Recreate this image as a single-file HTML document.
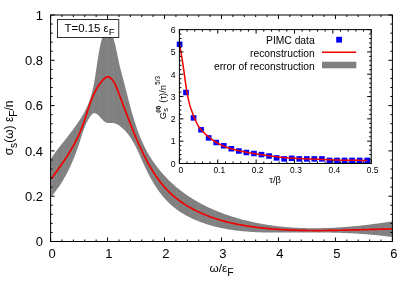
<!DOCTYPE html><html><head><meta charset="utf-8"><style>html,body{margin:0;padding:0;background:#fff}svg text{font-family:"Liberation Sans",sans-serif}body{width:415px;height:291px;overflow:hidden}</style></head><body><svg width="415" height="291" viewBox="0 0 415 291" style="display:block;will-change:transform;opacity:0.999">
<rect width="415" height="291" fill="#fff"/>
<g font-family="Liberation Sans, sans-serif" fill="#000">
<clipPath id="bc"><path d="M51.02,158.54 L51.62,157.65 L52.23,156.76 L52.86,155.87 L53.48,154.99 L54.12,154.10 L54.76,153.22 L55.41,152.34 L56.06,151.46 L56.72,150.58 L57.38,149.70 L58.05,148.82 L58.72,147.94 L59.40,147.06 L60.08,146.19 L60.76,145.31 L61.45,144.43 L62.13,143.55 L62.82,142.67 L63.51,141.80 L64.20,140.92 L64.89,140.04 L65.59,139.16 L66.28,138.28 L66.97,137.39 L67.66,136.51 L68.35,135.62 L69.04,134.74 L69.72,133.85 L70.41,132.96 L71.09,132.07 L71.77,131.17 L72.44,130.28 L73.11,129.38 L73.78,128.48 L74.44,127.58 L75.09,126.67 L75.74,125.76 L76.39,124.85 L77.02,123.94 L77.66,123.02 L78.28,122.10 L78.90,121.18 L79.51,120.25 L80.11,119.32 L80.70,118.39 L81.28,117.45 L81.86,116.50 L82.42,115.56 L82.98,114.61 L83.52,113.65 L84.05,112.69 L84.58,111.73 L85.09,110.76 L85.58,109.78 L86.07,108.81 L86.54,107.82 L87.00,106.83 L87.45,105.84 L87.88,104.84 L88.30,103.83 L88.70,102.82 L89.09,101.80 L89.46,100.78 L89.83,99.75 L90.17,98.72 L90.51,97.68 L90.83,96.63 L91.15,95.59 L91.45,94.53 L91.74,93.48 L92.02,92.42 L92.29,91.35 L92.55,90.28 L92.80,89.21 L93.04,88.13 L93.28,87.05 L93.51,85.97 L93.72,84.88 L93.94,83.79 L94.14,82.70 L94.34,81.60 L94.54,80.51 L94.73,79.41 L94.91,78.30 L95.09,77.20 L95.27,76.09 L95.44,74.98 L95.61,73.88 L95.78,72.76 L95.94,71.65 L96.11,70.54 L96.27,69.42 L96.43,68.31 L96.59,67.19 L96.75,66.07 L96.91,64.96 L97.07,63.84 L97.24,62.72 L97.40,61.61 L97.57,60.49 L97.74,59.37 L97.91,58.26 L98.08,57.14 L98.26,56.03 L98.45,54.91 L98.64,53.80 L98.83,52.69 L99.03,51.58 L99.24,50.47 L99.45,49.36 L99.67,48.26 L99.89,47.16 L100.13,46.06 L100.37,44.96 L100.62,43.86 L100.88,42.77 L101.15,41.68 L101.43,40.59 L101.72,39.51 L102.02,38.43 L102.33,37.35 L102.65,36.28 L102.99,35.21 L103.34,34.15 L103.71,33.10 L104.10,32.06 L104.52,31.04 L104.96,30.03 L105.42,29.04 L105.92,28.06 L106.45,27.13 L107.00,26.33 L107.55,25.83 L108.09,25.77 L108.61,26.19 L109.11,26.96 L109.59,27.90 L110.05,28.90 L110.49,29.90 L110.91,30.91 L111.32,31.93 L111.71,32.96 L112.09,34.00 L112.45,35.05 L112.80,36.10 L113.13,37.16 L113.46,38.23 L113.77,39.31 L114.07,40.39 L114.36,41.47 L114.65,42.56 L114.92,43.65 L115.19,44.75 L115.45,45.85 L115.70,46.95 L115.94,48.06 L116.18,49.16 L116.42,50.27 L116.65,51.38 L116.88,52.49 L117.11,53.60 L117.34,54.70 L117.56,55.81 L117.79,56.92 L118.01,58.02 L118.24,59.12 L118.47,60.22 L118.70,61.32 L118.94,62.41 L119.18,63.49 L119.42,64.58 L119.67,65.65 L119.93,66.72 L120.19,67.79 L120.45,68.85 L120.72,69.91 L120.99,70.97 L121.27,72.02 L121.55,73.07 L121.83,74.12 L122.11,75.17 L122.39,76.22 L122.67,77.27 L122.96,78.32 L123.24,79.37 L123.52,80.43 L123.80,81.48 L124.08,82.54 L124.35,83.60 L124.63,84.67 L124.90,85.73 L125.18,86.80 L125.45,87.87 L125.72,88.94 L126.00,90.01 L126.27,91.08 L126.54,92.16 L126.82,93.23 L127.09,94.31 L127.36,95.38 L127.64,96.46 L127.91,97.54 L128.19,98.62 L128.47,99.70 L128.75,100.78 L129.03,101.86 L129.31,102.94 L129.59,104.02 L129.88,105.10 L130.17,106.18 L130.46,107.26 L130.75,108.34 L131.05,109.42 L131.35,110.50 L131.65,111.58 L131.95,112.66 L132.26,113.73 L132.57,114.81 L132.88,115.88 L133.20,116.96 L133.52,118.03 L133.84,119.10 L134.17,120.17 L134.51,121.23 L134.84,122.30 L135.19,123.36 L135.53,124.42 L135.88,125.48 L136.24,126.54 L136.60,127.59 L136.97,128.65 L137.34,129.70 L137.72,130.74 L138.11,131.79 L138.50,132.83 L138.89,133.87 L139.29,134.90 L139.70,135.94 L140.12,136.96 L140.54,137.99 L140.97,139.01 L141.40,140.03 L141.85,141.04 L142.30,142.06 L142.75,143.06 L143.22,144.06 L143.69,145.06 L144.17,146.06 L144.66,147.05 L145.16,148.03 L145.66,149.01 L146.18,149.99 L146.70,150.96 L147.23,151.93 L147.77,152.89 L148.32,153.84 L148.88,154.80 L149.45,155.74 L150.02,156.68 L150.61,157.62 L151.20,158.55 L151.80,159.47 L152.41,160.39 L153.03,161.31 L153.65,162.21 L154.29,163.12 L154.93,164.01 L155.58,164.91 L156.24,165.79 L156.91,166.67 L157.58,167.55 L158.26,168.41 L158.95,169.28 L159.65,170.13 L160.35,170.98 L161.07,171.83 L161.78,172.67 L162.51,173.50 L163.25,174.33 L163.99,175.15 L164.74,175.96 L165.49,176.77 L166.25,177.57 L167.02,178.36 L167.80,179.15 L168.58,179.94 L169.37,180.71 L170.17,181.48 L170.97,182.24 L171.78,183.00 L172.59,183.75 L173.41,184.49 L174.24,185.22 L175.08,185.95 L175.92,186.67 L176.76,187.39 L177.62,188.09 L178.47,188.80 L179.34,189.49 L180.21,190.17 L181.08,190.85 L181.96,191.52 L182.85,192.19 L183.74,192.85 L184.64,193.50 L185.54,194.14 L186.45,194.77 L187.36,195.40 L188.28,196.02 L189.21,196.63 L190.13,197.24 L191.07,197.84 L192.00,198.43 L192.95,199.01 L193.89,199.59 L194.85,200.16 L195.80,200.72 L196.76,201.27 L197.72,201.82 L198.69,202.36 L199.66,202.90 L200.64,203.43 L201.62,203.95 L202.60,204.46 L203.59,204.97 L204.58,205.47 L205.58,205.96 L206.57,206.45 L207.57,206.93 L208.58,207.41 L209.58,207.88 L210.59,208.34 L211.60,208.79 L212.62,209.24 L213.64,209.69 L214.66,210.12 L215.68,210.55 L216.71,210.98 L217.73,211.40 L218.76,211.81 L219.80,212.22 L220.83,212.62 L221.87,213.01 L222.90,213.40 L223.94,213.78 L224.98,214.16 L226.03,214.53 L227.07,214.90 L228.12,215.26 L229.17,215.61 L230.21,215.96 L231.27,216.31 L232.32,216.64 L233.37,216.98 L234.43,217.30 L235.48,217.62 L236.54,217.94 L237.60,218.25 L238.66,218.56 L239.72,218.86 L240.79,219.15 L241.85,219.44 L242.92,219.72 L243.99,220.00 L245.06,220.27 L246.13,220.54 L247.20,220.81 L248.27,221.06 L249.35,221.32 L250.42,221.56 L251.50,221.81 L252.57,222.05 L253.65,222.28 L254.73,222.51 L255.81,222.73 L256.90,222.95 L257.98,223.16 L259.06,223.37 L260.15,223.57 L261.24,223.77 L262.32,223.96 L263.41,224.15 L264.50,224.34 L265.59,224.52 L266.68,224.69 L267.77,224.86 L268.87,225.03 L269.96,225.19 L271.05,225.35 L272.15,225.50 L273.25,225.65 L274.34,225.79 L275.44,225.93 L276.54,226.06 L277.64,226.19 L278.74,226.32 L279.84,226.44 L280.94,226.56 L282.04,226.67 L283.15,226.78 L284.25,226.88 L285.35,226.98 L286.46,227.08 L287.56,227.17 L288.67,227.26 L289.78,227.34 L290.88,227.42 L291.99,227.50 L293.10,227.57 L294.21,227.64 L295.31,227.70 L296.42,227.76 L297.53,227.82 L298.64,227.87 L299.75,227.92 L300.86,227.96 L301.97,228.00 L303.08,228.04 L304.20,228.08 L305.31,228.11 L306.42,228.13 L307.53,228.15 L308.64,228.17 L309.76,228.19 L310.87,228.20 L311.98,228.21 L313.10,228.21 L314.21,228.22 L315.32,228.21 L316.44,228.21 L317.55,228.20 L318.66,228.19 L319.78,228.17 L320.89,228.16 L322.00,228.13 L323.12,228.11 L324.23,228.08 L325.35,228.05 L326.46,228.02 L327.57,227.98 L328.69,227.94 L329.80,227.89 L330.91,227.85 L332.02,227.80 L333.14,227.74 L334.25,227.69 L335.36,227.63 L336.47,227.57 L337.58,227.51 L338.70,227.44 L339.81,227.37 L340.92,227.30 L342.03,227.22 L343.14,227.14 L344.25,227.06 L345.36,226.98 L346.46,226.89 L347.57,226.80 L348.68,226.71 L349.79,226.62 L350.90,226.52 L352.00,226.43 L353.11,226.32 L354.21,226.22 L355.32,226.11 L356.42,226.01 L357.53,225.90 L358.63,225.78 L359.73,225.67 L360.83,225.55 L361.93,225.43 L363.03,225.31 L364.13,225.18 L365.23,225.06 L366.33,224.93 L367.43,224.80 L368.52,224.67 L369.62,224.53 L370.71,224.40 L371.81,224.26 L372.90,224.12 L373.99,223.98 L375.09,223.83 L376.18,223.69 L377.27,223.54 L378.35,223.39 L379.44,223.24 L380.53,223.08 L381.61,222.93 L382.70,222.77 L383.78,222.61 L384.86,222.45 L385.95,222.29 L387.03,222.13 L388.10,221.96 L389.18,221.80 L390.26,221.63 L391.34,221.46 L392.41,221.29 L392.54,237.11 L391.64,236.98 L390.74,236.86 L389.85,236.74 L388.95,236.62 L388.05,236.51 L387.15,236.39 L386.26,236.28 L385.36,236.17 L384.46,236.07 L383.57,235.96 L382.67,235.86 L381.78,235.75 L380.88,235.65 L379.98,235.56 L379.09,235.46 L378.19,235.37 L377.30,235.27 L376.40,235.18 L375.51,235.09 L374.61,235.01 L373.72,234.92 L372.82,234.84 L371.93,234.76 L371.03,234.68 L370.14,234.60 L369.25,234.52 L368.35,234.45 L367.46,234.37 L366.56,234.30 L365.67,234.23 L364.78,234.16 L363.88,234.09 L362.99,234.03 L362.10,233.97 L361.20,233.90 L360.31,233.84 L359.41,233.78 L358.52,233.73 L357.63,233.67 L356.74,233.62 L355.84,233.56 L354.95,233.51 L354.06,233.46 L353.16,233.41 L352.27,233.36 L351.38,233.32 L350.48,233.27 L349.59,233.23 L348.70,233.19 L347.80,233.15 L346.91,233.11 L346.02,233.07 L345.13,233.03 L344.23,233.00 L343.34,232.96 L342.45,232.93 L341.55,232.90 L340.66,232.86 L339.77,232.84 L338.87,232.81 L337.98,232.78 L337.09,232.75 L336.19,232.73 L335.30,232.70 L334.40,232.68 L333.51,232.66 L332.62,232.64 L331.72,232.62 L330.83,232.60 L329.93,232.58 L329.04,232.56 L328.15,232.55 L327.25,232.53 L326.36,232.52 L325.46,232.51 L324.57,232.49 L323.67,232.48 L322.78,232.47 L321.88,232.46 L320.99,232.45 L320.09,232.45 L319.20,232.44 L318.30,232.43 L317.40,232.43 L316.51,232.42 L315.61,232.42 L314.71,232.42 L313.82,232.41 L312.92,232.41 L312.02,232.41 L311.13,232.41 L310.23,232.41 L309.33,232.41 L308.43,232.41 L307.54,232.42 L306.64,232.42 L305.74,232.42 L304.84,232.43 L303.94,232.43 L303.04,232.43 L302.14,232.44 L301.24,232.45 L300.34,232.45 L299.44,232.46 L298.54,232.47 L297.64,232.47 L296.74,232.48 L295.84,232.49 L294.94,232.50 L294.04,232.51 L293.13,232.52 L292.23,232.52 L291.33,232.53 L290.43,232.54 L289.53,232.55 L288.62,232.56 L287.72,232.57 L286.82,232.57 L285.92,232.58 L285.01,232.59 L284.11,232.59 L283.21,232.60 L282.31,232.60 L281.40,232.61 L280.50,232.61 L279.60,232.61 L278.69,232.61 L277.79,232.61 L276.89,232.61 L275.99,232.61 L275.08,232.61 L274.18,232.60 L273.28,232.60 L272.38,232.59 L271.47,232.58 L270.57,232.57 L269.67,232.56 L268.77,232.55 L267.87,232.54 L266.97,232.52 L266.07,232.50 L265.16,232.48 L264.26,232.46 L263.36,232.44 L262.46,232.41 L261.56,232.39 L260.66,232.36 L259.76,232.33 L258.87,232.29 L257.97,232.26 L257.07,232.22 L256.17,232.18 L255.27,232.13 L254.37,232.09 L253.48,232.04 L252.58,231.99 L251.69,231.93 L250.79,231.88 L249.89,231.82 L249.00,231.76 L248.10,231.69 L247.21,231.62 L246.32,231.55 L245.42,231.48 L244.53,231.40 L243.64,231.32 L242.75,231.24 L241.86,231.15 L240.97,231.06 L240.08,230.96 L239.19,230.86 L238.30,230.76 L237.41,230.66 L236.52,230.55 L235.63,230.44 L234.75,230.32 L233.86,230.20 L232.98,230.07 L232.09,229.95 L231.21,229.81 L230.33,229.68 L229.44,229.54 L228.56,229.39 L227.68,229.24 L226.80,229.09 L225.92,228.93 L225.04,228.77 L224.17,228.60 L223.29,228.43 L222.41,228.25 L221.54,228.07 L220.66,227.88 L219.79,227.69 L218.92,227.49 L218.04,227.29 L217.17,227.09 L216.30,226.88 L215.43,226.66 L214.56,226.44 L213.70,226.21 L212.83,225.98 L211.97,225.74 L211.10,225.50 L210.24,225.25 L209.37,224.99 L208.51,224.73 L207.65,224.47 L206.79,224.20 L205.93,223.92 L205.08,223.64 L204.22,223.35 L203.37,223.05 L202.51,222.75 L201.66,222.44 L200.82,222.13 L199.97,221.81 L199.13,221.48 L198.28,221.15 L197.44,220.81 L196.61,220.47 L195.77,220.12 L194.94,219.76 L194.12,219.40 L193.29,219.03 L192.47,218.65 L191.65,218.27 L190.84,217.88 L190.03,217.48 L189.23,217.08 L188.42,216.67 L187.63,216.25 L186.83,215.82 L186.05,215.39 L185.26,214.95 L184.48,214.51 L183.71,214.06 L182.94,213.60 L182.18,213.13 L181.42,212.66 L180.67,212.18 L179.92,211.69 L179.18,211.19 L178.44,210.69 L177.71,210.18 L176.99,209.66 L176.27,209.13 L175.56,208.60 L174.86,208.06 L174.16,207.51 L173.47,206.95 L172.79,206.39 L172.12,205.82 L171.45,205.24 L170.79,204.65 L170.13,204.05 L169.49,203.45 L168.85,202.84 L168.22,202.22 L167.59,201.59 L166.98,200.96 L166.37,200.32 L165.76,199.67 L165.17,199.02 L164.57,198.36 L163.99,197.69 L163.41,197.02 L162.84,196.34 L162.28,195.65 L161.72,194.96 L161.17,194.26 L160.62,193.56 L160.08,192.85 L159.55,192.13 L159.02,191.41 L158.49,190.69 L157.98,189.96 L157.46,189.22 L156.96,188.48 L156.46,187.73 L155.96,186.98 L155.47,186.23 L154.98,185.47 L154.50,184.70 L154.03,183.93 L153.55,183.16 L153.09,182.39 L152.63,181.60 L152.17,180.82 L151.72,180.03 L151.27,179.24 L150.83,178.45 L150.39,177.65 L149.95,176.85 L149.52,176.04 L149.09,175.24 L148.67,174.43 L148.25,173.61 L147.83,172.80 L147.42,171.98 L147.01,171.16 L146.60,170.34 L146.20,169.52 L145.80,168.69 L145.41,167.87 L145.01,167.04 L144.63,166.21 L144.24,165.37 L143.86,164.54 L143.47,163.71 L143.10,162.87 L142.72,162.04 L142.35,161.20 L141.97,160.36 L141.60,159.52 L141.23,158.69 L140.86,157.85 L140.50,157.02 L140.13,156.18 L139.76,155.35 L139.39,154.52 L139.01,153.69 L138.64,152.86 L138.26,152.04 L137.89,151.22 L137.51,150.40 L137.12,149.58 L136.73,148.77 L136.34,147.97 L135.95,147.16 L135.55,146.36 L135.14,145.57 L134.73,144.78 L134.31,144.00 L133.89,143.22 L133.46,142.45 L133.03,141.68 L132.58,140.92 L132.13,140.17 L131.67,139.42 L131.21,138.68 L130.73,137.95 L130.25,137.23 L129.75,136.51 L129.25,135.80 L128.73,135.10 L128.21,134.41 L127.67,133.73 L127.12,133.06 L126.57,132.40 L125.99,131.75 L125.41,131.11 L124.81,130.48 L124.21,129.86 L123.58,129.25 L122.94,128.65 L122.29,128.07 L121.63,127.50 L120.95,126.93 L120.25,126.39 L119.54,125.85 L118.81,125.34 L118.06,124.86 L117.30,124.41 L116.51,124.01 L115.70,123.65 L114.87,123.36 L114.02,123.14 L113.15,122.99 L112.25,122.92 L111.33,122.92 L110.39,122.98 L109.45,123.03 L108.53,123.05 L107.63,122.99 L106.76,122.81 L105.93,122.50 L105.14,122.07 L104.38,121.53 L103.65,120.91 L102.94,120.23 L102.24,119.49 L101.56,118.72 L100.88,117.94 L100.21,117.17 L99.53,116.41 L98.84,115.70 L98.15,115.04 L97.43,114.46 L96.70,113.97 L95.94,113.59 L95.16,113.35 L94.40,113.25 L93.66,113.32 L92.98,113.58 L92.35,114.01 L91.77,114.56 L91.22,115.20 L90.70,115.88 L90.19,116.57 L89.70,117.28 L89.23,118.00 L88.77,118.73 L88.33,119.47 L87.90,120.22 L87.48,120.98 L87.08,121.76 L86.69,122.54 L86.31,123.33 L85.94,124.13 L85.58,124.93 L85.23,125.75 L84.89,126.57 L84.56,127.40 L84.24,128.23 L83.93,129.07 L83.62,129.91 L83.32,130.76 L83.02,131.62 L82.73,132.48 L82.44,133.34 L82.16,134.20 L81.88,135.07 L81.60,135.94 L81.32,136.81 L81.05,137.68 L80.77,138.55 L80.50,139.42 L80.22,140.30 L79.94,141.17 L79.67,142.04 L79.38,142.91 L79.10,143.78 L78.81,144.64 L78.53,145.51 L78.23,146.37 L77.94,147.23 L77.64,148.09 L77.34,148.95 L77.04,149.80 L76.74,150.66 L76.43,151.51 L76.12,152.36 L75.80,153.21 L75.48,154.05 L75.16,154.90 L74.84,155.74 L74.51,156.58 L74.18,157.42 L73.84,158.25 L73.50,159.09 L73.16,159.92 L72.81,160.75 L72.46,161.58 L72.11,162.40 L71.75,163.22 L71.39,164.04 L71.03,164.86 L70.66,165.68 L70.28,166.49 L69.90,167.30 L69.52,168.11 L69.14,168.91 L68.74,169.72 L68.35,170.52 L67.95,171.31 L67.54,172.11 L67.14,172.90 L66.72,173.69 L66.30,174.48 L65.88,175.26 L65.45,176.04 L65.02,176.82 L64.58,177.59 L64.14,178.37 L63.69,179.13 L63.23,179.90 L62.78,180.66 L62.31,181.42 L61.84,182.18 L61.37,182.93 L60.89,183.68 L60.40,184.43 L59.91,185.17 L59.41,185.92 L58.91,186.65 L58.40,187.39 L57.89,188.12 L57.36,188.84 L56.84,189.57 L56.31,190.29 L55.77,191.00 L55.22,191.72 L54.67,192.43 L54.11,193.13 L53.55,193.83 L52.98,194.53 L52.40,195.23 L51.82,195.92 L51.23,196.60 Z"/></clipPath>
<path d="M51.02,158.54 L51.62,157.65 L52.23,156.76 L52.86,155.87 L53.48,154.99 L54.12,154.10 L54.76,153.22 L55.41,152.34 L56.06,151.46 L56.72,150.58 L57.38,149.70 L58.05,148.82 L58.72,147.94 L59.40,147.06 L60.08,146.19 L60.76,145.31 L61.45,144.43 L62.13,143.55 L62.82,142.67 L63.51,141.80 L64.20,140.92 L64.89,140.04 L65.59,139.16 L66.28,138.28 L66.97,137.39 L67.66,136.51 L68.35,135.62 L69.04,134.74 L69.72,133.85 L70.41,132.96 L71.09,132.07 L71.77,131.17 L72.44,130.28 L73.11,129.38 L73.78,128.48 L74.44,127.58 L75.09,126.67 L75.74,125.76 L76.39,124.85 L77.02,123.94 L77.66,123.02 L78.28,122.10 L78.90,121.18 L79.51,120.25 L80.11,119.32 L80.70,118.39 L81.28,117.45 L81.86,116.50 L82.42,115.56 L82.98,114.61 L83.52,113.65 L84.05,112.69 L84.58,111.73 L85.09,110.76 L85.58,109.78 L86.07,108.81 L86.54,107.82 L87.00,106.83 L87.45,105.84 L87.88,104.84 L88.30,103.83 L88.70,102.82 L89.09,101.80 L89.46,100.78 L89.83,99.75 L90.17,98.72 L90.51,97.68 L90.83,96.63 L91.15,95.59 L91.45,94.53 L91.74,93.48 L92.02,92.42 L92.29,91.35 L92.55,90.28 L92.80,89.21 L93.04,88.13 L93.28,87.05 L93.51,85.97 L93.72,84.88 L93.94,83.79 L94.14,82.70 L94.34,81.60 L94.54,80.51 L94.73,79.41 L94.91,78.30 L95.09,77.20 L95.27,76.09 L95.44,74.98 L95.61,73.88 L95.78,72.76 L95.94,71.65 L96.11,70.54 L96.27,69.42 L96.43,68.31 L96.59,67.19 L96.75,66.07 L96.91,64.96 L97.07,63.84 L97.24,62.72 L97.40,61.61 L97.57,60.49 L97.74,59.37 L97.91,58.26 L98.08,57.14 L98.26,56.03 L98.45,54.91 L98.64,53.80 L98.83,52.69 L99.03,51.58 L99.24,50.47 L99.45,49.36 L99.67,48.26 L99.89,47.16 L100.13,46.06 L100.37,44.96 L100.62,43.86 L100.88,42.77 L101.15,41.68 L101.43,40.59 L101.72,39.51 L102.02,38.43 L102.33,37.35 L102.65,36.28 L102.99,35.21 L103.34,34.15 L103.71,33.10 L104.10,32.06 L104.52,31.04 L104.96,30.03 L105.42,29.04 L105.92,28.06 L106.45,27.13 L107.00,26.33 L107.55,25.83 L108.09,25.77 L108.61,26.19 L109.11,26.96 L109.59,27.90 L110.05,28.90 L110.49,29.90 L110.91,30.91 L111.32,31.93 L111.71,32.96 L112.09,34.00 L112.45,35.05 L112.80,36.10 L113.13,37.16 L113.46,38.23 L113.77,39.31 L114.07,40.39 L114.36,41.47 L114.65,42.56 L114.92,43.65 L115.19,44.75 L115.45,45.85 L115.70,46.95 L115.94,48.06 L116.18,49.16 L116.42,50.27 L116.65,51.38 L116.88,52.49 L117.11,53.60 L117.34,54.70 L117.56,55.81 L117.79,56.92 L118.01,58.02 L118.24,59.12 L118.47,60.22 L118.70,61.32 L118.94,62.41 L119.18,63.49 L119.42,64.58 L119.67,65.65 L119.93,66.72 L120.19,67.79 L120.45,68.85 L120.72,69.91 L120.99,70.97 L121.27,72.02 L121.55,73.07 L121.83,74.12 L122.11,75.17 L122.39,76.22 L122.67,77.27 L122.96,78.32 L123.24,79.37 L123.52,80.43 L123.80,81.48 L124.08,82.54 L124.35,83.60 L124.63,84.67 L124.90,85.73 L125.18,86.80 L125.45,87.87 L125.72,88.94 L126.00,90.01 L126.27,91.08 L126.54,92.16 L126.82,93.23 L127.09,94.31 L127.36,95.38 L127.64,96.46 L127.91,97.54 L128.19,98.62 L128.47,99.70 L128.75,100.78 L129.03,101.86 L129.31,102.94 L129.59,104.02 L129.88,105.10 L130.17,106.18 L130.46,107.26 L130.75,108.34 L131.05,109.42 L131.35,110.50 L131.65,111.58 L131.95,112.66 L132.26,113.73 L132.57,114.81 L132.88,115.88 L133.20,116.96 L133.52,118.03 L133.84,119.10 L134.17,120.17 L134.51,121.23 L134.84,122.30 L135.19,123.36 L135.53,124.42 L135.88,125.48 L136.24,126.54 L136.60,127.59 L136.97,128.65 L137.34,129.70 L137.72,130.74 L138.11,131.79 L138.50,132.83 L138.89,133.87 L139.29,134.90 L139.70,135.94 L140.12,136.96 L140.54,137.99 L140.97,139.01 L141.40,140.03 L141.85,141.04 L142.30,142.06 L142.75,143.06 L143.22,144.06 L143.69,145.06 L144.17,146.06 L144.66,147.05 L145.16,148.03 L145.66,149.01 L146.18,149.99 L146.70,150.96 L147.23,151.93 L147.77,152.89 L148.32,153.84 L148.88,154.80 L149.45,155.74 L150.02,156.68 L150.61,157.62 L151.20,158.55 L151.80,159.47 L152.41,160.39 L153.03,161.31 L153.65,162.21 L154.29,163.12 L154.93,164.01 L155.58,164.91 L156.24,165.79 L156.91,166.67 L157.58,167.55 L158.26,168.41 L158.95,169.28 L159.65,170.13 L160.35,170.98 L161.07,171.83 L161.78,172.67 L162.51,173.50 L163.25,174.33 L163.99,175.15 L164.74,175.96 L165.49,176.77 L166.25,177.57 L167.02,178.36 L167.80,179.15 L168.58,179.94 L169.37,180.71 L170.17,181.48 L170.97,182.24 L171.78,183.00 L172.59,183.75 L173.41,184.49 L174.24,185.22 L175.08,185.95 L175.92,186.67 L176.76,187.39 L177.62,188.09 L178.47,188.80 L179.34,189.49 L180.21,190.17 L181.08,190.85 L181.96,191.52 L182.85,192.19 L183.74,192.85 L184.64,193.50 L185.54,194.14 L186.45,194.77 L187.36,195.40 L188.28,196.02 L189.21,196.63 L190.13,197.24 L191.07,197.84 L192.00,198.43 L192.95,199.01 L193.89,199.59 L194.85,200.16 L195.80,200.72 L196.76,201.27 L197.72,201.82 L198.69,202.36 L199.66,202.90 L200.64,203.43 L201.62,203.95 L202.60,204.46 L203.59,204.97 L204.58,205.47 L205.58,205.96 L206.57,206.45 L207.57,206.93 L208.58,207.41 L209.58,207.88 L210.59,208.34 L211.60,208.79 L212.62,209.24 L213.64,209.69 L214.66,210.12 L215.68,210.55 L216.71,210.98 L217.73,211.40 L218.76,211.81 L219.80,212.22 L220.83,212.62 L221.87,213.01 L222.90,213.40 L223.94,213.78 L224.98,214.16 L226.03,214.53 L227.07,214.90 L228.12,215.26 L229.17,215.61 L230.21,215.96 L231.27,216.31 L232.32,216.64 L233.37,216.98 L234.43,217.30 L235.48,217.62 L236.54,217.94 L237.60,218.25 L238.66,218.56 L239.72,218.86 L240.79,219.15 L241.85,219.44 L242.92,219.72 L243.99,220.00 L245.06,220.27 L246.13,220.54 L247.20,220.81 L248.27,221.06 L249.35,221.32 L250.42,221.56 L251.50,221.81 L252.57,222.05 L253.65,222.28 L254.73,222.51 L255.81,222.73 L256.90,222.95 L257.98,223.16 L259.06,223.37 L260.15,223.57 L261.24,223.77 L262.32,223.96 L263.41,224.15 L264.50,224.34 L265.59,224.52 L266.68,224.69 L267.77,224.86 L268.87,225.03 L269.96,225.19 L271.05,225.35 L272.15,225.50 L273.25,225.65 L274.34,225.79 L275.44,225.93 L276.54,226.06 L277.64,226.19 L278.74,226.32 L279.84,226.44 L280.94,226.56 L282.04,226.67 L283.15,226.78 L284.25,226.88 L285.35,226.98 L286.46,227.08 L287.56,227.17 L288.67,227.26 L289.78,227.34 L290.88,227.42 L291.99,227.50 L293.10,227.57 L294.21,227.64 L295.31,227.70 L296.42,227.76 L297.53,227.82 L298.64,227.87 L299.75,227.92 L300.86,227.96 L301.97,228.00 L303.08,228.04 L304.20,228.08 L305.31,228.11 L306.42,228.13 L307.53,228.15 L308.64,228.17 L309.76,228.19 L310.87,228.20 L311.98,228.21 L313.10,228.21 L314.21,228.22 L315.32,228.21 L316.44,228.21 L317.55,228.20 L318.66,228.19 L319.78,228.17 L320.89,228.16 L322.00,228.13 L323.12,228.11 L324.23,228.08 L325.35,228.05 L326.46,228.02 L327.57,227.98 L328.69,227.94 L329.80,227.89 L330.91,227.85 L332.02,227.80 L333.14,227.74 L334.25,227.69 L335.36,227.63 L336.47,227.57 L337.58,227.51 L338.70,227.44 L339.81,227.37 L340.92,227.30 L342.03,227.22 L343.14,227.14 L344.25,227.06 L345.36,226.98 L346.46,226.89 L347.57,226.80 L348.68,226.71 L349.79,226.62 L350.90,226.52 L352.00,226.43 L353.11,226.32 L354.21,226.22 L355.32,226.11 L356.42,226.01 L357.53,225.90 L358.63,225.78 L359.73,225.67 L360.83,225.55 L361.93,225.43 L363.03,225.31 L364.13,225.18 L365.23,225.06 L366.33,224.93 L367.43,224.80 L368.52,224.67 L369.62,224.53 L370.71,224.40 L371.81,224.26 L372.90,224.12 L373.99,223.98 L375.09,223.83 L376.18,223.69 L377.27,223.54 L378.35,223.39 L379.44,223.24 L380.53,223.08 L381.61,222.93 L382.70,222.77 L383.78,222.61 L384.86,222.45 L385.95,222.29 L387.03,222.13 L388.10,221.96 L389.18,221.80 L390.26,221.63 L391.34,221.46 L392.41,221.29 L392.54,237.11 L391.64,236.98 L390.74,236.86 L389.85,236.74 L388.95,236.62 L388.05,236.51 L387.15,236.39 L386.26,236.28 L385.36,236.17 L384.46,236.07 L383.57,235.96 L382.67,235.86 L381.78,235.75 L380.88,235.65 L379.98,235.56 L379.09,235.46 L378.19,235.37 L377.30,235.27 L376.40,235.18 L375.51,235.09 L374.61,235.01 L373.72,234.92 L372.82,234.84 L371.93,234.76 L371.03,234.68 L370.14,234.60 L369.25,234.52 L368.35,234.45 L367.46,234.37 L366.56,234.30 L365.67,234.23 L364.78,234.16 L363.88,234.09 L362.99,234.03 L362.10,233.97 L361.20,233.90 L360.31,233.84 L359.41,233.78 L358.52,233.73 L357.63,233.67 L356.74,233.62 L355.84,233.56 L354.95,233.51 L354.06,233.46 L353.16,233.41 L352.27,233.36 L351.38,233.32 L350.48,233.27 L349.59,233.23 L348.70,233.19 L347.80,233.15 L346.91,233.11 L346.02,233.07 L345.13,233.03 L344.23,233.00 L343.34,232.96 L342.45,232.93 L341.55,232.90 L340.66,232.86 L339.77,232.84 L338.87,232.81 L337.98,232.78 L337.09,232.75 L336.19,232.73 L335.30,232.70 L334.40,232.68 L333.51,232.66 L332.62,232.64 L331.72,232.62 L330.83,232.60 L329.93,232.58 L329.04,232.56 L328.15,232.55 L327.25,232.53 L326.36,232.52 L325.46,232.51 L324.57,232.49 L323.67,232.48 L322.78,232.47 L321.88,232.46 L320.99,232.45 L320.09,232.45 L319.20,232.44 L318.30,232.43 L317.40,232.43 L316.51,232.42 L315.61,232.42 L314.71,232.42 L313.82,232.41 L312.92,232.41 L312.02,232.41 L311.13,232.41 L310.23,232.41 L309.33,232.41 L308.43,232.41 L307.54,232.42 L306.64,232.42 L305.74,232.42 L304.84,232.43 L303.94,232.43 L303.04,232.43 L302.14,232.44 L301.24,232.45 L300.34,232.45 L299.44,232.46 L298.54,232.47 L297.64,232.47 L296.74,232.48 L295.84,232.49 L294.94,232.50 L294.04,232.51 L293.13,232.52 L292.23,232.52 L291.33,232.53 L290.43,232.54 L289.53,232.55 L288.62,232.56 L287.72,232.57 L286.82,232.57 L285.92,232.58 L285.01,232.59 L284.11,232.59 L283.21,232.60 L282.31,232.60 L281.40,232.61 L280.50,232.61 L279.60,232.61 L278.69,232.61 L277.79,232.61 L276.89,232.61 L275.99,232.61 L275.08,232.61 L274.18,232.60 L273.28,232.60 L272.38,232.59 L271.47,232.58 L270.57,232.57 L269.67,232.56 L268.77,232.55 L267.87,232.54 L266.97,232.52 L266.07,232.50 L265.16,232.48 L264.26,232.46 L263.36,232.44 L262.46,232.41 L261.56,232.39 L260.66,232.36 L259.76,232.33 L258.87,232.29 L257.97,232.26 L257.07,232.22 L256.17,232.18 L255.27,232.13 L254.37,232.09 L253.48,232.04 L252.58,231.99 L251.69,231.93 L250.79,231.88 L249.89,231.82 L249.00,231.76 L248.10,231.69 L247.21,231.62 L246.32,231.55 L245.42,231.48 L244.53,231.40 L243.64,231.32 L242.75,231.24 L241.86,231.15 L240.97,231.06 L240.08,230.96 L239.19,230.86 L238.30,230.76 L237.41,230.66 L236.52,230.55 L235.63,230.44 L234.75,230.32 L233.86,230.20 L232.98,230.07 L232.09,229.95 L231.21,229.81 L230.33,229.68 L229.44,229.54 L228.56,229.39 L227.68,229.24 L226.80,229.09 L225.92,228.93 L225.04,228.77 L224.17,228.60 L223.29,228.43 L222.41,228.25 L221.54,228.07 L220.66,227.88 L219.79,227.69 L218.92,227.49 L218.04,227.29 L217.17,227.09 L216.30,226.88 L215.43,226.66 L214.56,226.44 L213.70,226.21 L212.83,225.98 L211.97,225.74 L211.10,225.50 L210.24,225.25 L209.37,224.99 L208.51,224.73 L207.65,224.47 L206.79,224.20 L205.93,223.92 L205.08,223.64 L204.22,223.35 L203.37,223.05 L202.51,222.75 L201.66,222.44 L200.82,222.13 L199.97,221.81 L199.13,221.48 L198.28,221.15 L197.44,220.81 L196.61,220.47 L195.77,220.12 L194.94,219.76 L194.12,219.40 L193.29,219.03 L192.47,218.65 L191.65,218.27 L190.84,217.88 L190.03,217.48 L189.23,217.08 L188.42,216.67 L187.63,216.25 L186.83,215.82 L186.05,215.39 L185.26,214.95 L184.48,214.51 L183.71,214.06 L182.94,213.60 L182.18,213.13 L181.42,212.66 L180.67,212.18 L179.92,211.69 L179.18,211.19 L178.44,210.69 L177.71,210.18 L176.99,209.66 L176.27,209.13 L175.56,208.60 L174.86,208.06 L174.16,207.51 L173.47,206.95 L172.79,206.39 L172.12,205.82 L171.45,205.24 L170.79,204.65 L170.13,204.05 L169.49,203.45 L168.85,202.84 L168.22,202.22 L167.59,201.59 L166.98,200.96 L166.37,200.32 L165.76,199.67 L165.17,199.02 L164.57,198.36 L163.99,197.69 L163.41,197.02 L162.84,196.34 L162.28,195.65 L161.72,194.96 L161.17,194.26 L160.62,193.56 L160.08,192.85 L159.55,192.13 L159.02,191.41 L158.49,190.69 L157.98,189.96 L157.46,189.22 L156.96,188.48 L156.46,187.73 L155.96,186.98 L155.47,186.23 L154.98,185.47 L154.50,184.70 L154.03,183.93 L153.55,183.16 L153.09,182.39 L152.63,181.60 L152.17,180.82 L151.72,180.03 L151.27,179.24 L150.83,178.45 L150.39,177.65 L149.95,176.85 L149.52,176.04 L149.09,175.24 L148.67,174.43 L148.25,173.61 L147.83,172.80 L147.42,171.98 L147.01,171.16 L146.60,170.34 L146.20,169.52 L145.80,168.69 L145.41,167.87 L145.01,167.04 L144.63,166.21 L144.24,165.37 L143.86,164.54 L143.47,163.71 L143.10,162.87 L142.72,162.04 L142.35,161.20 L141.97,160.36 L141.60,159.52 L141.23,158.69 L140.86,157.85 L140.50,157.02 L140.13,156.18 L139.76,155.35 L139.39,154.52 L139.01,153.69 L138.64,152.86 L138.26,152.04 L137.89,151.22 L137.51,150.40 L137.12,149.58 L136.73,148.77 L136.34,147.97 L135.95,147.16 L135.55,146.36 L135.14,145.57 L134.73,144.78 L134.31,144.00 L133.89,143.22 L133.46,142.45 L133.03,141.68 L132.58,140.92 L132.13,140.17 L131.67,139.42 L131.21,138.68 L130.73,137.95 L130.25,137.23 L129.75,136.51 L129.25,135.80 L128.73,135.10 L128.21,134.41 L127.67,133.73 L127.12,133.06 L126.57,132.40 L125.99,131.75 L125.41,131.11 L124.81,130.48 L124.21,129.86 L123.58,129.25 L122.94,128.65 L122.29,128.07 L121.63,127.50 L120.95,126.93 L120.25,126.39 L119.54,125.85 L118.81,125.34 L118.06,124.86 L117.30,124.41 L116.51,124.01 L115.70,123.65 L114.87,123.36 L114.02,123.14 L113.15,122.99 L112.25,122.92 L111.33,122.92 L110.39,122.98 L109.45,123.03 L108.53,123.05 L107.63,122.99 L106.76,122.81 L105.93,122.50 L105.14,122.07 L104.38,121.53 L103.65,120.91 L102.94,120.23 L102.24,119.49 L101.56,118.72 L100.88,117.94 L100.21,117.17 L99.53,116.41 L98.84,115.70 L98.15,115.04 L97.43,114.46 L96.70,113.97 L95.94,113.59 L95.16,113.35 L94.40,113.25 L93.66,113.32 L92.98,113.58 L92.35,114.01 L91.77,114.56 L91.22,115.20 L90.70,115.88 L90.19,116.57 L89.70,117.28 L89.23,118.00 L88.77,118.73 L88.33,119.47 L87.90,120.22 L87.48,120.98 L87.08,121.76 L86.69,122.54 L86.31,123.33 L85.94,124.13 L85.58,124.93 L85.23,125.75 L84.89,126.57 L84.56,127.40 L84.24,128.23 L83.93,129.07 L83.62,129.91 L83.32,130.76 L83.02,131.62 L82.73,132.48 L82.44,133.34 L82.16,134.20 L81.88,135.07 L81.60,135.94 L81.32,136.81 L81.05,137.68 L80.77,138.55 L80.50,139.42 L80.22,140.30 L79.94,141.17 L79.67,142.04 L79.38,142.91 L79.10,143.78 L78.81,144.64 L78.53,145.51 L78.23,146.37 L77.94,147.23 L77.64,148.09 L77.34,148.95 L77.04,149.80 L76.74,150.66 L76.43,151.51 L76.12,152.36 L75.80,153.21 L75.48,154.05 L75.16,154.90 L74.84,155.74 L74.51,156.58 L74.18,157.42 L73.84,158.25 L73.50,159.09 L73.16,159.92 L72.81,160.75 L72.46,161.58 L72.11,162.40 L71.75,163.22 L71.39,164.04 L71.03,164.86 L70.66,165.68 L70.28,166.49 L69.90,167.30 L69.52,168.11 L69.14,168.91 L68.74,169.72 L68.35,170.52 L67.95,171.31 L67.54,172.11 L67.14,172.90 L66.72,173.69 L66.30,174.48 L65.88,175.26 L65.45,176.04 L65.02,176.82 L64.58,177.59 L64.14,178.37 L63.69,179.13 L63.23,179.90 L62.78,180.66 L62.31,181.42 L61.84,182.18 L61.37,182.93 L60.89,183.68 L60.40,184.43 L59.91,185.17 L59.41,185.92 L58.91,186.65 L58.40,187.39 L57.89,188.12 L57.36,188.84 L56.84,189.57 L56.31,190.29 L55.77,191.00 L55.22,191.72 L54.67,192.43 L54.11,193.13 L53.55,193.83 L52.98,194.53 L52.40,195.23 L51.82,195.92 L51.23,196.60 Z" fill="#808080" stroke="none"/>
<path d="M52.00,15 V241 M54.27,15 V241 M56.54,15 V241 M63.35,15 V241 M65.62,15 V241 M70.16,15 V241 M72.43,15 V241 M76.97,15 V241 M81.51,15 V241 M86.05,15 V241 M92.86,15 V241 M99.67,15 V241 M106.48,15 V241 M108.75,15 V241 M113.29,15 V241 M124.64,15 V241 M129.18,15 V241 M135.99,15 V241 M138.26,15 V241 M140.53,15 V241 M145.07,15 V241 M149.61,15 V241 M151.88,15 V241 M154.15,15 V241 M156.42,15 V241 M176.85,15 V241 M190.47,15 V241 M197.28,15 V241 M199.55,15 V241 M206.36,15 V241 M210.90,15 V241 M213.17,15 V241 M215.44,15 V241 M222.25,15 V241 M226.79,15 V241 M231.33,15 V241 M238.14,15 V241 M242.68,15 V241 M244.95,15 V241 M249.49,15 V241 M251.76,15 V241 M254.03,15 V241 M258.57,15 V241 M260.84,15 V241 M265.38,15 V241 M272.19,15 V241 M274.46,15 V241 M276.73,15 V241 M290.35,15 V241 M292.62,15 V241 M297.16,15 V241 M299.43,15 V241 M303.97,15 V241 M306.24,15 V241 M308.51,15 V241 M310.78,15 V241 M315.32,15 V241 M322.13,15 V241 M326.67,15 V241 M331.21,15 V241 M338.02,15 V241 M340.29,15 V241 M347.10,15 V241 M349.37,15 V241 M353.91,15 V241 M356.18,15 V241 M358.45,15 V241 M360.72,15 V241 M365.26,15 V241 M367.53,15 V241 M372.07,15 V241 M378.88,15 V241 M381.15,15 V241 M385.69,15 V241 M387.96,15 V241 M390.23,15 V241" clip-path="url(#bc)" stroke="#fff" stroke-opacity="0.09" stroke-width="0.6" fill="none"/>
<path d="M51.13,178.86 L51.72,178.07 L52.31,177.28 L52.89,176.49 L53.48,175.70 L54.06,174.91 L54.64,174.13 L55.22,173.34 L55.79,172.55 L56.37,171.76 L56.94,170.97 L57.51,170.18 L58.08,169.39 L58.64,168.60 L59.20,167.81 L59.77,167.02 L60.32,166.23 L60.88,165.44 L61.43,164.65 L61.98,163.85 L62.53,163.06 L63.07,162.26 L63.61,161.47 L64.15,160.67 L64.69,159.87 L65.22,159.07 L65.74,158.27 L66.27,157.46 L66.79,156.66 L67.31,155.85 L67.82,155.04 L68.33,154.23 L68.84,153.42 L69.34,152.61 L69.84,151.79 L70.33,150.97 L70.83,150.15 L71.31,149.33 L71.79,148.50 L72.27,147.67 L72.74,146.84 L73.21,146.01 L73.68,145.17 L74.14,144.33 L74.59,143.49 L75.04,142.64 L75.49,141.79 L75.93,140.94 L76.36,140.08 L76.79,139.23 L77.22,138.36 L77.64,137.50 L78.05,136.63 L78.46,135.75 L78.86,134.88 L79.26,134.00 L79.65,133.11 L80.04,132.22 L80.42,131.33 L80.79,130.43 L81.16,129.53 L81.53,128.62 L81.88,127.71 L82.23,126.80 L82.58,125.88 L82.92,124.95 L83.25,124.02 L83.58,123.09 L83.90,122.16 L84.22,121.22 L84.54,120.28 L84.85,119.34 L85.17,118.40 L85.47,117.45 L85.78,116.51 L86.09,115.56 L86.39,114.61 L86.70,113.66 L87.00,112.72 L87.31,111.77 L87.62,110.82 L87.92,109.88 L88.23,108.94 L88.54,107.99 L88.86,107.06 L89.17,106.12 L89.49,105.18 L89.82,104.25 L90.15,103.33 L90.48,102.40 L90.82,101.48 L91.16,100.57 L91.51,99.66 L91.87,98.75 L92.23,97.85 L92.60,96.96 L92.98,96.07 L93.36,95.19 L93.76,94.31 L94.16,93.45 L94.57,92.59 L94.99,91.73 L95.43,90.89 L95.87,90.05 L96.33,89.23 L96.79,88.41 L97.27,87.60 L97.76,86.80 L98.26,86.01 L98.78,85.23 L99.31,84.47 L99.85,83.71 L100.41,82.96 L100.99,82.23 L101.57,81.51 L102.18,80.80 L102.80,80.10 L103.44,79.42 L104.09,78.77 L104.76,78.18 L105.45,77.67 L106.15,77.26 L106.86,76.97 L107.60,76.84 L108.34,76.87 L109.10,77.11 L109.86,77.53 L110.62,78.10 L111.35,78.77 L112.05,79.52 L112.69,80.31 L113.29,81.13 L113.84,81.98 L114.36,82.85 L114.84,83.74 L115.29,84.65 L115.72,85.58 L116.12,86.51 L116.52,87.46 L116.89,88.41 L117.27,89.36 L117.64,90.31 L118.00,91.26 L118.37,92.21 L118.73,93.16 L119.09,94.10 L119.45,95.04 L119.81,95.98 L120.17,96.92 L120.52,97.85 L120.88,98.79 L121.23,99.72 L121.58,100.65 L121.93,101.58 L122.28,102.50 L122.63,103.43 L122.98,104.35 L123.32,105.27 L123.67,106.19 L124.01,107.11 L124.36,108.03 L124.70,108.94 L125.05,109.86 L125.39,110.77 L125.73,111.68 L126.08,112.59 L126.42,113.50 L126.76,114.41 L127.11,115.31 L127.45,116.22 L127.79,117.12 L128.14,118.02 L128.48,118.92 L128.83,119.82 L129.17,120.72 L129.52,121.61 L129.86,122.51 L130.21,123.40 L130.56,124.30 L130.91,125.19 L131.26,126.08 L131.61,126.97 L131.96,127.86 L132.32,128.75 L132.67,129.63 L133.03,130.52 L133.39,131.40 L133.75,132.29 L134.11,133.17 L134.47,134.05 L134.84,134.94 L135.21,135.82 L135.58,136.70 L135.95,137.58 L136.32,138.46 L136.70,139.33 L137.07,140.21 L137.45,141.09 L137.84,141.97 L138.22,142.84 L138.61,143.72 L139.00,144.59 L139.39,145.47 L139.79,146.34 L140.19,147.21 L140.59,148.09 L141.00,148.96 L141.41,149.83 L141.82,150.70 L142.23,151.58 L142.65,152.45 L143.07,153.32 L143.50,154.19 L143.93,155.06 L144.36,155.93 L144.80,156.80 L145.24,157.66 L145.68,158.53 L146.13,159.39 L146.58,160.26 L147.04,161.12 L147.50,161.98 L147.97,162.83 L148.44,163.69 L148.91,164.54 L149.39,165.39 L149.88,166.24 L150.36,167.08 L150.86,167.92 L151.36,168.76 L151.86,169.60 L152.37,170.43 L152.88,171.26 L153.40,172.09 L153.92,172.91 L154.45,173.73 L154.99,174.54 L155.53,175.35 L156.07,176.15 L156.62,176.96 L157.18,177.75 L157.74,178.54 L158.31,179.33 L158.89,180.11 L159.47,180.89 L160.05,181.66 L160.65,182.42 L161.24,183.18 L161.85,183.94 L162.46,184.69 L163.08,185.43 L163.71,186.16 L164.34,186.89 L164.98,187.62 L165.62,188.33 L166.27,189.04 L166.93,189.75 L167.60,190.44 L168.27,191.13 L168.95,191.81 L169.64,192.49 L170.33,193.15 L171.04,193.81 L171.74,194.46 L172.46,195.10 L173.19,195.74 L173.92,196.37 L174.65,196.99 L175.40,197.60 L176.15,198.20 L176.90,198.80 L177.67,199.39 L178.44,199.97 L179.21,200.55 L179.99,201.12 L180.78,201.68 L181.57,202.23 L182.37,202.78 L183.17,203.32 L183.98,203.85 L184.80,204.37 L185.61,204.89 L186.44,205.40 L187.27,205.91 L188.10,206.40 L188.93,206.89 L189.78,207.38 L190.62,207.85 L191.47,208.32 L192.33,208.79 L193.18,209.24 L194.04,209.69 L194.91,210.14 L195.78,210.57 L196.65,211.00 L197.52,211.43 L198.40,211.84 L199.28,212.25 L200.16,212.66 L201.05,213.06 L201.94,213.45 L202.83,213.83 L203.72,214.21 L204.62,214.59 L205.52,214.95 L206.42,215.31 L207.32,215.67 L208.22,216.02 L209.13,216.36 L210.03,216.70 L210.94,217.03 L211.85,217.36 L212.76,217.68 L213.68,217.99 L214.60,218.30 L215.51,218.60 L216.43,218.90 L217.35,219.19 L218.28,219.48 L219.20,219.76 L220.13,220.04 L221.05,220.31 L221.98,220.58 L222.91,220.84 L223.84,221.09 L224.78,221.35 L225.71,221.59 L226.65,221.83 L227.58,222.07 L228.52,222.30 L229.46,222.53 L230.40,222.76 L231.34,222.97 L232.28,223.19 L233.23,223.40 L234.17,223.60 L235.12,223.81 L236.07,224.00 L237.01,224.20 L237.96,224.38 L238.91,224.57 L239.86,224.75 L240.82,224.93 L241.77,225.10 L242.72,225.27 L243.68,225.43 L244.63,225.60 L245.59,225.75 L246.54,225.91 L247.50,226.06 L248.46,226.21 L249.42,226.35 L250.38,226.49 L251.34,226.63 L252.30,226.77 L253.26,226.90 L254.22,227.03 L255.18,227.15 L256.14,227.27 L257.10,227.39 L258.06,227.51 L259.03,227.62 L259.99,227.73 L260.95,227.84 L261.92,227.95 L262.88,228.05 L263.84,228.15 L264.81,228.25 L265.77,228.34 L266.73,228.44 L267.70,228.53 L268.66,228.61 L269.63,228.70 L270.59,228.78 L271.56,228.86 L272.52,228.94 L273.49,229.02 L274.45,229.09 L275.42,229.17 L276.38,229.24 L277.35,229.30 L278.31,229.37 L279.28,229.43 L280.24,229.50 L281.21,229.56 L282.17,229.61 L283.14,229.67 L284.11,229.72 L285.07,229.77 L286.04,229.82 L287.01,229.87 L287.97,229.92 L288.94,229.96 L289.90,230.00 L290.87,230.04 L291.84,230.08 L292.80,230.12 L293.77,230.15 L294.74,230.19 L295.70,230.22 L296.67,230.25 L297.64,230.28 L298.61,230.30 L299.57,230.33 L300.54,230.35 L301.51,230.37 L302.47,230.39 L303.44,230.41 L304.41,230.43 L305.38,230.45 L306.35,230.46 L307.31,230.47 L308.28,230.48 L309.25,230.49 L310.22,230.50 L311.18,230.51 L312.15,230.52 L313.12,230.52 L314.09,230.53 L315.06,230.53 L316.02,230.53 L316.99,230.53 L317.96,230.53 L318.93,230.53 L319.90,230.53 L320.86,230.52 L321.83,230.52 L322.80,230.51 L323.77,230.50 L324.74,230.50 L325.71,230.49 L326.68,230.48 L327.64,230.47 L328.61,230.45 L329.58,230.44 L330.55,230.43 L331.52,230.41 L332.49,230.40 L333.45,230.38 L334.42,230.37 L335.39,230.35 L336.36,230.33 L337.33,230.31 L338.30,230.29 L339.27,230.27 L340.23,230.25 L341.20,230.23 L342.17,230.21 L343.14,230.19 L344.11,230.17 L345.08,230.14 L346.05,230.12 L347.01,230.10 L347.98,230.07 L348.95,230.05 L349.92,230.02 L350.89,230.00 L351.86,229.97 L352.83,229.95 L353.79,229.92 L354.76,229.89 L355.73,229.87 L356.70,229.84 L357.67,229.81 L358.64,229.79 L359.60,229.76 L360.57,229.73 L361.54,229.71 L362.51,229.68 L363.48,229.65 L364.45,229.62 L365.41,229.60 L366.38,229.57 L367.35,229.54 L368.32,229.52 L369.29,229.49 L370.25,229.46 L371.22,229.44 L372.19,229.41 L373.16,229.38 L374.12,229.36 L375.09,229.33 L376.06,229.31 L377.03,229.28 L377.99,229.26 L378.96,229.24 L379.93,229.21 L380.90,229.19 L381.86,229.17 L382.83,229.14 L383.80,229.12 L384.76,229.10 L385.73,229.08 L386.70,229.06 L387.67,229.04 L388.63,229.02 L389.60,229.00 L390.57,228.99 L391.53,228.97 L392.50,228.95" fill="none" stroke="#f00000" stroke-width="1.7" stroke-linejoin="round"/>
<rect x="50.6" y="15.0" width="341.8" height="226.5" fill="none" stroke="#000" stroke-width="1"/>
<path d="M50.60,241.50 v-4.00 M50.60,15.00 v4.00 M61.99,241.50 v-2.00 M61.99,15.00 v2.00 M73.39,241.50 v-2.00 M73.39,15.00 v2.00 M84.78,241.50 v-2.00 M84.78,15.00 v2.00 M96.17,241.50 v-2.00 M96.17,15.00 v2.00 M107.57,241.50 v-4.00 M107.57,15.00 v4.00 M118.96,241.50 v-2.00 M118.96,15.00 v2.00 M130.35,241.50 v-2.00 M130.35,15.00 v2.00 M141.75,241.50 v-2.00 M141.75,15.00 v2.00 M153.14,241.50 v-2.00 M153.14,15.00 v2.00 M164.53,241.50 v-4.00 M164.53,15.00 v4.00 M175.93,241.50 v-2.00 M175.93,15.00 v2.00 M187.32,241.50 v-2.00 M187.32,15.00 v2.00 M198.71,241.50 v-2.00 M198.71,15.00 v2.00 M210.11,241.50 v-2.00 M210.11,15.00 v2.00 M221.50,241.50 v-4.00 M221.50,15.00 v4.00 M232.89,241.50 v-2.00 M232.89,15.00 v2.00 M244.29,241.50 v-2.00 M244.29,15.00 v2.00 M255.68,241.50 v-2.00 M255.68,15.00 v2.00 M267.07,241.50 v-2.00 M267.07,15.00 v2.00 M278.47,241.50 v-4.00 M278.47,15.00 v4.00 M289.86,241.50 v-2.00 M289.86,15.00 v2.00 M301.25,241.50 v-2.00 M301.25,15.00 v2.00 M312.65,241.50 v-2.00 M312.65,15.00 v2.00 M324.04,241.50 v-2.00 M324.04,15.00 v2.00 M335.43,241.50 v-4.00 M335.43,15.00 v4.00 M346.83,241.50 v-2.00 M346.83,15.00 v2.00 M358.22,241.50 v-2.00 M358.22,15.00 v2.00 M369.61,241.50 v-2.00 M369.61,15.00 v2.00 M381.01,241.50 v-2.00 M381.01,15.00 v2.00 M392.40,241.50 v-4.00 M392.40,15.00 v4.00 M50.60,241.50 h4.00 M392.40,241.50 h-4.00 M50.60,232.44 h2.00 M392.40,232.44 h-2.00 M50.60,223.38 h2.00 M392.40,223.38 h-2.00 M50.60,214.32 h2.00 M392.40,214.32 h-2.00 M50.60,205.26 h2.00 M392.40,205.26 h-2.00 M50.60,196.20 h4.00 M392.40,196.20 h-4.00 M50.60,187.14 h2.00 M392.40,187.14 h-2.00 M50.60,178.08 h2.00 M392.40,178.08 h-2.00 M50.60,169.02 h2.00 M392.40,169.02 h-2.00 M50.60,159.96 h2.00 M392.40,159.96 h-2.00 M50.60,150.90 h4.00 M392.40,150.90 h-4.00 M50.60,141.84 h2.00 M392.40,141.84 h-2.00 M50.60,132.78 h2.00 M392.40,132.78 h-2.00 M50.60,123.72 h2.00 M392.40,123.72 h-2.00 M50.60,114.66 h2.00 M392.40,114.66 h-2.00 M50.60,105.60 h4.00 M392.40,105.60 h-4.00 M50.60,96.54 h2.00 M392.40,96.54 h-2.00 M50.60,87.48 h2.00 M392.40,87.48 h-2.00 M50.60,78.42 h2.00 M392.40,78.42 h-2.00 M50.60,69.36 h2.00 M392.40,69.36 h-2.00 M50.60,60.30 h4.00 M392.40,60.30 h-4.00 M50.60,51.24 h2.00 M392.40,51.24 h-2.00 M50.60,42.18 h2.00 M392.40,42.18 h-2.00 M50.60,33.12 h2.00 M392.40,33.12 h-2.00 M50.60,24.06 h2.00 M392.40,24.06 h-2.00 M50.60,15.00 h4.00 M392.40,15.00 h-4.00" stroke="#000" stroke-width="1" fill="none"/>
<text x="52.00" y="257.80" font-size="13.0" text-anchor="middle">0</text>
<text x="108.97" y="257.80" font-size="13.0" text-anchor="middle">1</text>
<text x="165.93" y="257.80" font-size="13.0" text-anchor="middle">2</text>
<text x="222.90" y="257.80" font-size="13.0" text-anchor="middle">3</text>
<text x="279.87" y="257.80" font-size="13.0" text-anchor="middle">4</text>
<text x="336.83" y="257.80" font-size="13.0" text-anchor="middle">5</text>
<text x="393.80" y="257.80" font-size="13.0" text-anchor="middle">6</text>
<text x="43.10" y="246.10" font-size="13.0" text-anchor="end">0</text>
<text x="43.10" y="200.80" font-size="13.0" text-anchor="end">0.2</text>
<text x="43.10" y="155.50" font-size="13.0" text-anchor="end">0.4</text>
<text x="43.10" y="110.20" font-size="13.0" text-anchor="end">0.6</text>
<text x="43.10" y="64.90" font-size="13.0" text-anchor="end">0.8</text>
<text x="43.10" y="19.60" font-size="13.0" text-anchor="end">1</text>
<text x="209.6" y="272.3" font-size="11.8">ω/ε<tspan dy="3.9" font-size="10.4">F</tspan></text>
<text transform="translate(13.4,155.3) rotate(-90)" font-size="12">σ<tspan dy="3.4" font-size="10.2">s</tspan><tspan dy="-3.4">(ω) ε</tspan><tspan dy="3.4" font-size="10.2">F</tspan><tspan dy="-3.4">/n</tspan></text>
<rect x="57.5" y="19.6" width="61.3" height="18" fill="#fff" stroke="#000" stroke-width="0.8"/>
<text x="64.6" y="32.4" font-size="11.4">T=0.15 ε<tspan dy="2.7" font-size="9.6">F</tspan></text>
<rect x="179.4" y="29.6" width="191.8" height="133.9" fill="#fff" stroke="none"/>
<rect x="176.75" y="41.55" width="5.7" height="5.5" fill="#0000ff"/>
<rect x="183.15" y="89.75" width="5.7" height="5.5" fill="#0000ff"/>
<rect x="190.70" y="115.15" width="5.7" height="5.5" fill="#0000ff"/>
<rect x="198.25" y="127.05" width="5.7" height="5.5" fill="#0000ff"/>
<rect x="205.80" y="135.15" width="5.7" height="5.5" fill="#0000ff"/>
<rect x="213.35" y="139.75" width="5.7" height="5.5" fill="#0000ff"/>
<rect x="220.90" y="143.05" width="5.7" height="5.5" fill="#0000ff"/>
<rect x="228.45" y="146.00" width="5.7" height="5.5" fill="#0000ff"/>
<rect x="236.00" y="148.25" width="5.7" height="5.5" fill="#0000ff"/>
<rect x="243.55" y="149.75" width="5.7" height="5.5" fill="#0000ff"/>
<rect x="251.10" y="150.75" width="5.7" height="5.5" fill="#0000ff"/>
<rect x="258.65" y="151.85" width="5.7" height="5.5" fill="#0000ff"/>
<rect x="266.20" y="153.25" width="5.7" height="5.5" fill="#0000ff"/>
<rect x="273.75" y="155.15" width="5.7" height="5.5" fill="#0000ff"/>
<rect x="281.30" y="156.15" width="5.7" height="5.5" fill="#0000ff"/>
<rect x="288.85" y="155.55" width="5.7" height="5.5" fill="#0000ff"/>
<rect x="296.40" y="156.15" width="5.7" height="5.5" fill="#0000ff"/>
<rect x="303.95" y="156.15" width="5.7" height="5.5" fill="#0000ff"/>
<rect x="311.50" y="156.15" width="5.7" height="5.5" fill="#0000ff"/>
<rect x="319.05" y="156.15" width="5.7" height="5.5" fill="#0000ff"/>
<rect x="326.60" y="157.65" width="5.7" height="5.5" fill="#0000ff"/>
<rect x="334.15" y="157.65" width="5.7" height="5.5" fill="#0000ff"/>
<rect x="341.70" y="157.65" width="5.7" height="5.5" fill="#0000ff"/>
<rect x="349.25" y="157.65" width="5.7" height="5.5" fill="#0000ff"/>
<rect x="356.80" y="157.65" width="5.7" height="5.5" fill="#0000ff"/>
<rect x="364.35" y="157.65" width="5.7" height="5.5" fill="#0000ff"/>
<path d="M179.60,44.30 L180.23,47.86 L180.85,51.53 L181.48,55.32 L182.11,59.21 L182.74,63.19 L183.36,67.27 L183.99,71.59 L184.62,76.20 L185.25,80.89 L185.87,85.42 L186.50,89.59 L187.13,93.19 L187.76,96.39 L188.38,99.32 L189.01,102.00 L189.64,104.42 L190.27,106.58 L190.89,108.52 L191.52,110.31 L192.15,112.01 L192.78,113.71 L193.40,115.37 L194.03,116.91 L194.66,118.38 L195.29,119.83 L195.91,121.24 L196.54,122.60 L197.17,123.87 L197.80,125.06 L198.42,126.12 L199.05,127.06 L199.68,127.92 L200.31,128.73 L200.93,129.48 L201.56,130.19 L202.19,130.87 L202.81,131.51 L203.44,132.13 L204.07,132.74 L204.70,133.33 L205.32,133.92 L205.95,134.51 L206.58,135.08 L207.21,135.64 L207.83,136.19 L208.46,136.73 L209.09,137.26 L209.72,137.77 L210.34,138.26 L210.97,138.74 L211.60,139.21 L212.23,139.66 L212.85,140.10 L213.48,140.52 L214.11,140.93 L214.74,141.33 L215.36,141.73 L215.99,142.12 L216.62,142.50 L217.25,142.87 L217.87,143.24 L218.50,143.59 L219.13,143.93 L219.76,144.27 L220.38,144.59 L221.01,144.91 L221.64,145.21 L222.26,145.50 L222.89,145.78 L223.52,146.05 L224.15,146.31 L224.77,146.56 L225.40,146.80 L226.03,147.03 L226.66,147.26 L227.28,147.48 L227.91,147.69 L228.54,147.89 L229.17,148.09 L229.79,148.29 L230.42,148.48 L231.05,148.67 L231.68,148.85 L232.30,149.03 L232.93,149.20 L233.56,149.37 L234.19,149.54 L234.81,149.70 L235.44,149.86 L236.07,150.01 L236.70,150.16 L237.32,150.31 L237.95,150.46 L238.58,150.60 L239.21,150.75 L239.83,150.89 L240.46,151.03 L241.09,151.17 L241.72,151.31 L242.34,151.44 L242.97,151.58 L243.60,151.71 L244.22,151.84 L244.85,151.96 L245.48,152.09 L246.11,152.21 L246.73,152.32 L247.36,152.44 L247.99,152.55 L248.62,152.66 L249.24,152.77 L249.87,152.87 L250.50,152.98 L251.13,153.08 L251.75,153.18 L252.38,153.28 L253.01,153.38 L253.64,153.48 L254.26,153.58 L254.89,153.68 L255.52,153.78 L256.15,153.88 L256.77,153.98 L257.40,154.08 L258.03,154.18 L258.66,154.28 L259.28,154.38 L259.91,154.48 L260.54,154.58 L261.17,154.68 L261.79,154.78 L262.42,154.88 L263.05,154.97 L263.67,155.07 L264.30,155.16 L264.93,155.26 L265.56,155.35 L266.18,155.44 L266.81,155.53 L267.44,155.62 L268.07,155.71 L268.69,155.79 L269.32,155.88 L269.95,155.96 L270.58,156.04 L271.20,156.13 L271.83,156.21 L272.46,156.29 L273.09,156.37 L273.71,156.46 L274.34,156.54 L274.97,156.62 L275.60,156.70 L276.22,156.78 L276.85,156.85 L277.48,156.93 L278.11,157.00 L278.73,157.08 L279.36,157.15 L279.99,157.22 L280.62,157.28 L281.24,157.35 L281.87,157.41 L282.50,157.47 L283.13,157.53 L283.75,157.58 L284.38,157.63 L285.01,157.68 L285.63,157.73 L286.26,157.78 L286.89,157.82 L287.52,157.87 L288.14,157.91 L288.77,157.96 L289.40,158.00 L290.03,158.04 L290.65,158.08 L291.28,158.12 L291.91,158.16 L292.54,158.19 L293.16,158.23 L293.79,158.27 L294.42,158.30 L295.05,158.33 L295.67,158.37 L296.30,158.40 L296.93,158.43 L297.56,158.46 L298.18,158.49 L298.81,158.52 L299.44,158.55 L300.07,158.57 L300.69,158.60 L301.32,158.62 L301.95,158.65 L302.58,158.67 L303.20,158.69 L303.83,158.71 L304.46,158.74 L305.08,158.76 L305.71,158.78 L306.34,158.80 L306.97,158.82 L307.59,158.84 L308.22,158.86 L308.85,158.88 L309.48,158.90 L310.10,158.92 L310.73,158.94 L311.36,158.96 L311.99,158.98 L312.61,159.01 L313.24,159.03 L313.87,159.05 L314.50,159.08 L315.12,159.11 L315.75,159.13 L316.38,159.16 L317.01,159.19 L317.63,159.22 L318.26,159.25 L318.89,159.28 L319.52,159.32 L320.14,159.35 L320.77,159.38 L321.40,159.42 L322.03,159.45 L322.65,159.48 L323.28,159.52 L323.91,159.55 L324.54,159.58 L325.16,159.61 L325.79,159.64 L326.42,159.67 L327.04,159.70 L327.67,159.73 L328.30,159.75 L328.93,159.78 L329.55,159.80 L330.18,159.82 L330.81,159.85 L331.44,159.87 L332.06,159.89 L332.69,159.91 L333.32,159.93 L333.95,159.95 L334.57,159.97 L335.20,159.99 L335.83,160.01 L336.46,160.03 L337.08,160.05 L337.71,160.07 L338.34,160.08 L338.97,160.10 L339.59,160.12 L340.22,160.13 L340.85,160.14 L341.48,160.16 L342.10,160.17 L342.73,160.18 L343.36,160.19 L343.99,160.20 L344.61,160.21 L345.24,160.22 L345.87,160.23 L346.49,160.23 L347.12,160.24 L347.75,160.25 L348.38,160.26 L349.00,160.27 L349.63,160.27 L350.26,160.28 L350.89,160.29 L351.51,160.30 L352.14,160.30 L352.77,160.31 L353.40,160.32 L354.02,160.32 L354.65,160.33 L355.28,160.34 L355.91,160.34 L356.53,160.35 L357.16,160.35 L357.79,160.36 L358.42,160.36 L359.04,160.37 L359.67,160.37 L360.30,160.38 L360.93,160.38 L361.55,160.38 L362.18,160.39 L362.81,160.39 L363.44,160.39 L364.06,160.40 L364.69,160.40 L365.32,160.40 L365.95,160.40 L366.57,160.40 L367.20,160.40" fill="none" stroke="#f00000" stroke-width="1.5" stroke-linejoin="round"/>
<rect x="179.4" y="29.6" width="191.8" height="133.9" fill="none" stroke="#000" stroke-width="1"/>
<path d="M179.40,163.50 v-4.00 M179.40,29.60 v4.00 M187.07,163.50 v-2.00 M187.07,29.60 v2.00 M194.74,163.50 v-2.00 M194.74,29.60 v2.00 M202.42,163.50 v-2.00 M202.42,29.60 v2.00 M210.09,163.50 v-2.00 M210.09,29.60 v2.00 M217.76,163.50 v-4.00 M217.76,29.60 v4.00 M225.43,163.50 v-2.00 M225.43,29.60 v2.00 M233.10,163.50 v-2.00 M233.10,29.60 v2.00 M240.78,163.50 v-2.00 M240.78,29.60 v2.00 M248.45,163.50 v-2.00 M248.45,29.60 v2.00 M256.12,163.50 v-4.00 M256.12,29.60 v4.00 M263.79,163.50 v-2.00 M263.79,29.60 v2.00 M271.46,163.50 v-2.00 M271.46,29.60 v2.00 M279.14,163.50 v-2.00 M279.14,29.60 v2.00 M286.81,163.50 v-2.00 M286.81,29.60 v2.00 M294.48,163.50 v-4.00 M294.48,29.60 v4.00 M302.15,163.50 v-2.00 M302.15,29.60 v2.00 M309.82,163.50 v-2.00 M309.82,29.60 v2.00 M317.50,163.50 v-2.00 M317.50,29.60 v2.00 M325.17,163.50 v-2.00 M325.17,29.60 v2.00 M332.84,163.50 v-4.00 M332.84,29.60 v4.00 M340.51,163.50 v-2.00 M340.51,29.60 v2.00 M348.18,163.50 v-2.00 M348.18,29.60 v2.00 M355.86,163.50 v-2.00 M355.86,29.60 v2.00 M363.53,163.50 v-2.00 M363.53,29.60 v2.00 M371.20,163.50 v-4.00 M371.20,29.60 v4.00 M179.40,163.50 h4.00 M371.20,163.50 h-4.00 M179.40,159.04 h2.00 M371.20,159.04 h-2.00 M179.40,154.57 h2.00 M371.20,154.57 h-2.00 M179.40,150.11 h2.00 M371.20,150.11 h-2.00 M179.40,145.65 h2.00 M371.20,145.65 h-2.00 M179.40,141.18 h4.00 M371.20,141.18 h-4.00 M179.40,136.72 h2.00 M371.20,136.72 h-2.00 M179.40,132.26 h2.00 M371.20,132.26 h-2.00 M179.40,127.79 h2.00 M371.20,127.79 h-2.00 M179.40,123.33 h2.00 M371.20,123.33 h-2.00 M179.40,118.87 h4.00 M371.20,118.87 h-4.00 M179.40,114.40 h2.00 M371.20,114.40 h-2.00 M179.40,109.94 h2.00 M371.20,109.94 h-2.00 M179.40,105.48 h2.00 M371.20,105.48 h-2.00 M179.40,101.01 h2.00 M371.20,101.01 h-2.00 M179.40,96.55 h4.00 M371.20,96.55 h-4.00 M179.40,92.09 h2.00 M371.20,92.09 h-2.00 M179.40,87.62 h2.00 M371.20,87.62 h-2.00 M179.40,83.16 h2.00 M371.20,83.16 h-2.00 M179.40,78.70 h2.00 M371.20,78.70 h-2.00 M179.40,74.23 h4.00 M371.20,74.23 h-4.00 M179.40,69.77 h2.00 M371.20,69.77 h-2.00 M179.40,65.31 h2.00 M371.20,65.31 h-2.00 M179.40,60.84 h2.00 M371.20,60.84 h-2.00 M179.40,56.38 h2.00 M371.20,56.38 h-2.00 M179.40,51.92 h4.00 M371.20,51.92 h-4.00 M179.40,47.45 h2.00 M371.20,47.45 h-2.00 M179.40,42.99 h2.00 M371.20,42.99 h-2.00 M179.40,38.53 h2.00 M371.20,38.53 h-2.00 M179.40,34.06 h2.00 M371.20,34.06 h-2.00 M179.40,29.60 h4.00 M371.20,29.60 h-4.00" stroke="#000" stroke-width="1" fill="none"/>
<text transform="translate(180.90,172.70) scale(0.87,1)" font-size="9.7" text-anchor="middle">0</text>
<text transform="translate(219.26,172.70) scale(0.87,1)" font-size="9.7" text-anchor="middle">0.1</text>
<text transform="translate(257.62,172.70) scale(0.87,1)" font-size="9.7" text-anchor="middle">0.2</text>
<text transform="translate(295.98,172.70) scale(0.87,1)" font-size="9.7" text-anchor="middle">0.3</text>
<text transform="translate(334.34,172.70) scale(0.87,1)" font-size="9.7" text-anchor="middle">0.4</text>
<text transform="translate(372.70,172.70) scale(0.87,1)" font-size="9.7" text-anchor="middle">0.5</text>
<text transform="translate(175.60,166.80) scale(0.9,1)" font-size="9.7" text-anchor="end">0</text>
<text transform="translate(175.60,144.48) scale(0.9,1)" font-size="9.7" text-anchor="end">1</text>
<text transform="translate(175.60,122.17) scale(0.9,1)" font-size="9.7" text-anchor="end">2</text>
<text transform="translate(175.60,99.85) scale(0.9,1)" font-size="9.7" text-anchor="end">3</text>
<text transform="translate(175.60,77.53) scale(0.9,1)" font-size="9.7" text-anchor="end">4</text>
<text transform="translate(175.60,55.22) scale(0.9,1)" font-size="9.7" text-anchor="end">5</text>
<text transform="translate(175.60,32.90) scale(0.9,1)" font-size="9.7" text-anchor="end">6</text>
<text x="269.3" y="183.2" font-size="9.4">τ/β</text>
<g transform="translate(165.6,119.3) rotate(-90)"><text x="0" y="0" font-size="9.3">G</text><text x="7.6" y="2.2" font-size="7.6">s</text><text x="6.6" y="-5.4" font-size="6.2" stroke="#000" stroke-width="0.25">(ii)</text><text x="16.6" y="0" font-size="9.3">(τ)/n</text><text transform="translate(34.6,-5.4) scale(0.83,1)" font-size="7.4">5/3</text></g>
<text x="314.7" y="44.0" font-size="10.3" text-anchor="end">PIMC data</text>
<text x="314.7" y="57.0" font-size="10.3" text-anchor="end">reconstruction</text>
<text x="314.7" y="69.9" font-size="10.3" text-anchor="end">error of reconstruction</text>
<rect x="336.2" y="36.8" width="5.8" height="5.8" fill="#0000ff"/>
<path d="M322,52.2 H356.2" stroke="#f00000" stroke-width="1.4"/>
<rect x="322" y="61.7" width="34.3" height="6.6" fill="#808080"/>
</g></svg></body></html>
